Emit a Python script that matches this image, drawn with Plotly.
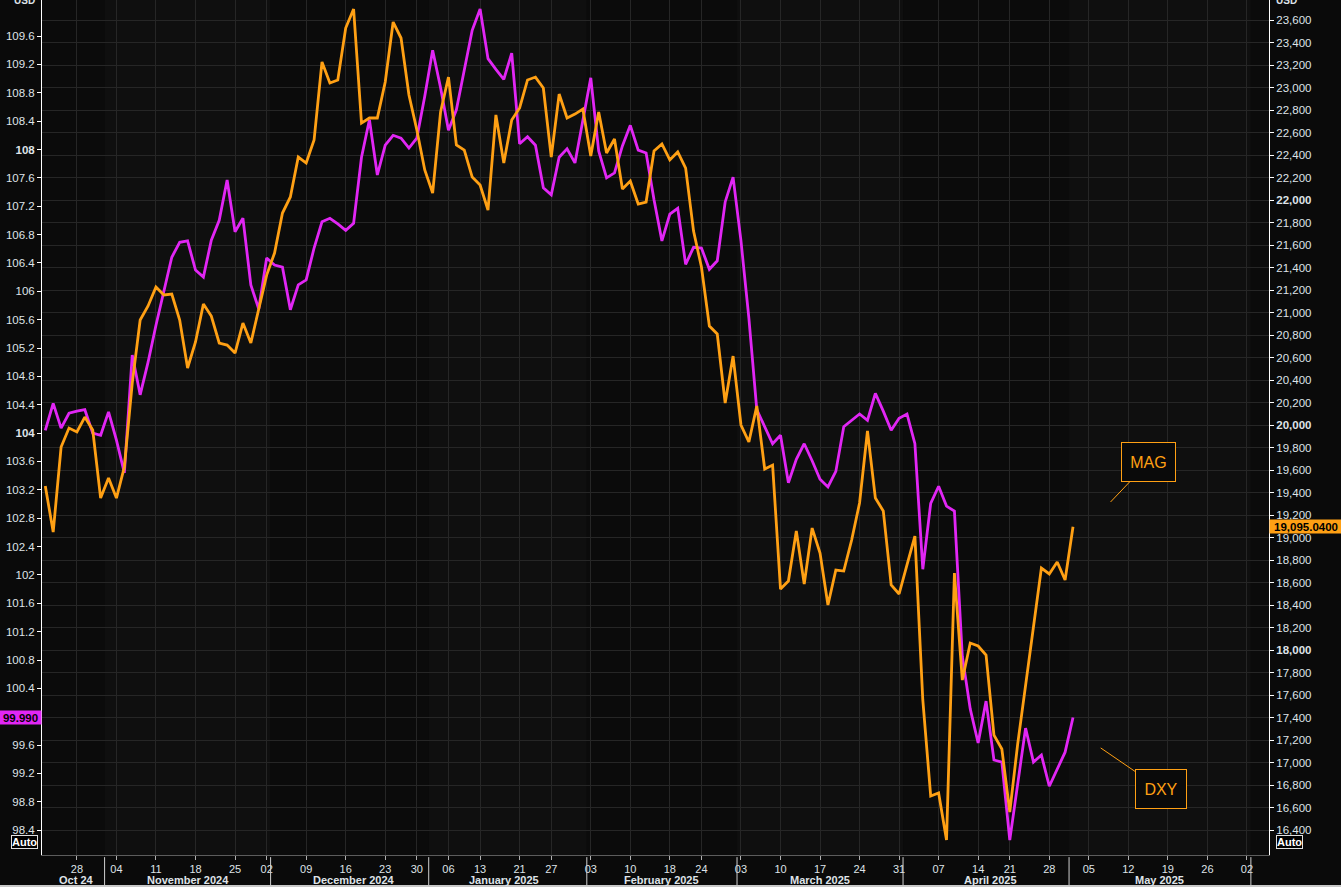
import plotly.graph_objects as go

# ---------------- data ----------------
dates = [
    "2024-10-22", "2024-10-23", "2024-10-24", "2024-10-25", "2024-10-28", "2024-10-29", "2024-10-30", "2024-10-31",
    "2024-11-01", "2024-11-04", "2024-11-05", "2024-11-06", "2024-11-07", "2024-11-08", "2024-11-11", "2024-11-12",
    "2024-11-13", "2024-11-14", "2024-11-15", "2024-11-18", "2024-11-19", "2024-11-20", "2024-11-21", "2024-11-22",
    "2024-11-25", "2024-11-26", "2024-11-27", "2024-11-29", "2024-12-02", "2024-12-03", "2024-12-04", "2024-12-05",
    "2024-12-06", "2024-12-09", "2024-12-10", "2024-12-11", "2024-12-12", "2024-12-13", "2024-12-16", "2024-12-17",
    "2024-12-18", "2024-12-19", "2024-12-20", "2024-12-23", "2024-12-24", "2024-12-26", "2024-12-27", "2024-12-30",
    "2024-12-31", "2025-01-02", "2025-01-03", "2025-01-06", "2025-01-07", "2025-01-08", "2025-01-10", "2025-01-13",
    "2025-01-14", "2025-01-15", "2025-01-16", "2025-01-17", "2025-01-21", "2025-01-22", "2025-01-23", "2025-01-24",
    "2025-01-27", "2025-01-28", "2025-01-29", "2025-01-30", "2025-01-31", "2025-02-03", "2025-02-04", "2025-02-05",
    "2025-02-06", "2025-02-07", "2025-02-10", "2025-02-11", "2025-02-12", "2025-02-13", "2025-02-14", "2025-02-18",
    "2025-02-19", "2025-02-20", "2025-02-21", "2025-02-24", "2025-02-25", "2025-02-26", "2025-02-27", "2025-02-28",
    "2025-03-03", "2025-03-04", "2025-03-05", "2025-03-06", "2025-03-07", "2025-03-10", "2025-03-11", "2025-03-12",
    "2025-03-13", "2025-03-14", "2025-03-17", "2025-03-18", "2025-03-19", "2025-03-20", "2025-03-21", "2025-03-24",
    "2025-03-25", "2025-03-26", "2025-03-27", "2025-03-28", "2025-03-31", "2025-04-01", "2025-04-02", "2025-04-03",
    "2025-04-04", "2025-04-07", "2025-04-08", "2025-04-09", "2025-04-10", "2025-04-11", "2025-04-14", "2025-04-15",
    "2025-04-16", "2025-04-17", "2025-04-21", "2025-04-22", "2025-04-23", "2025-04-24", "2025-04-25", "2025-04-28",
    "2025-04-29", "2025-04-30", "2025-05-01",
]

dxy = [
    104.04, 104.42, 104.07, 104.28, 104.31, 104.33, 104.00, 103.97,
    104.30, 103.90, 103.44, 105.10, 104.54, 105.00, 105.52, 106.00,
    106.48, 106.69, 106.71, 106.30, 106.20, 106.72, 107.00, 107.57,
    106.84, 107.03, 106.09, 105.75, 106.47, 106.37, 106.34, 105.74,
    106.09, 106.16, 106.61, 106.98, 107.03, 106.95, 106.86, 106.96,
    107.89, 108.42, 107.64, 108.06, 108.20, 108.16, 108.02, 108.16,
    108.75, 109.40, 108.87, 108.27, 108.56, 109.12, 109.68, 109.98,
    109.28, 109.13, 108.99, 109.36, 108.08, 108.18, 108.06, 107.46,
    107.36, 107.89, 108.01, 107.81, 108.39, 109.01, 107.98, 107.60,
    107.67, 108.05, 108.34, 107.99, 107.95, 107.29, 106.71, 107.09,
    107.17, 106.38, 106.62, 106.61, 106.31, 106.43, 107.26, 107.61,
    106.71, 105.62, 104.33, 104.10, 103.85, 103.97, 103.30, 103.63,
    103.85, 103.61, 103.35, 103.24, 103.46, 104.09, 104.18, 104.27,
    104.18, 104.56, 104.31, 104.04, 104.21, 104.27, 103.85, 102.08,
    103.01, 103.25, 102.97, 102.90, 100.85, 100.11, 99.63, 100.22,
    99.39, 99.36, 98.26, 99.05, 99.84, 99.36, 99.46, 99.02,
    99.25, 99.50, 99.99,
]

mag = [
    19458, 19049, 19804, 19973, 19938, 20071, 19956, 19351,
    19529, 19351, 19627, 20373, 20933, 21058, 21227, 21156,
    21164, 20933, 20507, 20738, 21076, 20969, 20729, 20711,
    20640, 20907, 20729, 21022, 21333, 21529, 21884, 22027,
    22382, 22329, 22533, 23227, 23040, 23067, 23529, 23698,
    22684, 22729, 22729, 23049, 23582, 23440, 22933, 22622,
    22267, 22062, 22782, 23093, 22489, 22444, 22204, 22133,
    21911, 22756, 22329, 22711, 22818, 23067, 23093, 22996,
    22382, 22942, 22729, 22764, 22809, 22391, 22782, 22418,
    22542, 22098, 22169, 21964, 21982, 22436, 22498, 22356,
    22427, 22284, 21724, 21404, 20880, 20809, 20196, 20613,
    20000, 19849, 20169, 19609, 19644, 18542, 18613, 19058,
    18587, 19084, 18862, 18400, 18711, 18702, 18978, 19307,
    19947, 19351, 19236, 18578, 18498, 18756, 19013, 17556,
    16702, 16729, 16311, 18684, 17733, 18062, 18036, 17956,
    17244, 17120, 16560, 17164, 17689, 18204, 18729, 18676,
    18782, 18622, 19095.04,
]

holidays = ["2024-11-28", "2024-12-25", "2025-01-01", "2025-01-09", "2025-01-20",
            "2025-02-17", "2025-04-18"]

x_tick_dates = [
    "2024-10-28", "2024-11-04", "2024-11-11", "2024-11-18", "2024-11-25", "2024-12-02", "2024-12-09",
    "2024-12-16", "2024-12-23", "2024-12-30", "2025-01-06", "2025-01-13", "2025-01-21", "2025-01-27",
    "2025-02-03", "2025-02-10", "2025-02-18", "2025-02-24", "2025-03-03", "2025-03-10", "2025-03-17",
    "2025-03-24", "2025-03-31", "2025-04-07", "2025-04-14", "2025-04-21", "2025-04-28", "2025-05-05",
    "2025-05-12", "2025-05-19", "2025-05-26", "2025-06-02",
]
x_tick_text = [d[-2:] for d in x_tick_dates]

month_names = ["Oct 24", "November 2024", "December 2024", "January 2025", "February 2025",
               "March 2025", "April 2025", "May 2025"]
month_label_at = ["2024-10-28", "2024-11-15", "2024-12-17", "2025-01-16", "2025-02-14",
                  "2025-03-17", "2025-04-15 12:00", "2025-05-16"]
month_edges = ["2024-10-31 12:00", "2024-11-30 12:00", "2024-12-31 12:00", "2025-01-31 12:00",
               "2025-02-28 12:00", "2025-03-31 12:00", "2025-04-30 12:00", "2025-05-31 12:00"]

dxy_ticks = [round(98.4 + 0.4 * i, 1) for i in range(29)]
mag_ticks = [16400 + 200 * i for i in range(37)]

# ---------------- styling ----------------
ORANGE = "#ffa014"
MAGENTA = "#e126f4"
TXT = "#dfe3e8"
GRID = "#262626"
FONT = "Liberation Sans, Arial, sans-serif"

X_RANGE = ["2024-10-21 14:00", "2025-06-04 19:00"]


def fmt_dxy(v):
    s = f"{v:.1f}"
    if s.endswith(".0"):
        s = s[:-2]
        if s == "100":
            return ""  # hidden behind the last-value box in the reference
        if int(s) % 4 == 0:
            return f"<b>{s}</b>"
    return s


def fmt_mag(v):
    s = f"{v:,}"
    return f"<b>{s}</b>" if v % 2000 == 0 else s


fig = go.Figure()
fig.add_trace(go.Scatter(x=dates, y=mag, yaxis="y2", mode="lines", name="MAG",
                         line=dict(color=ORANGE, width=2.8), hoverinfo="skip"))
fig.add_trace(go.Scatter(x=dates, y=dxy, yaxis="y", mode="lines", name="DXY",
                         line=dict(color=MAGENTA, width=2.8), hoverinfo="skip"))

shapes = []
# alternating month shading
band_edges = [X_RANGE[0]] + month_edges + [X_RANGE[1]]
for i in range(len(band_edges) - 1):
    shapes.append(dict(type="rect", xref="x", yref="paper", x0=band_edges[i], x1=band_edges[i + 1],
                       y0=0, y1=1, layer="below", line=dict(width=0),
                       fillcolor="#0f0f0f" if i % 2 == 1 else "#0b0b0b"))
# month separators below the axis
for e in month_edges:
    shapes.append(dict(type="line", xref="x", yref="paper", x0=e, x1=e, y0=-0.0025, y1=-0.036,
                       line=dict(color="#d0d0d0", width=1)))
# light strip at the very bottom of the page
shapes.append(dict(type="rect", xref="paper", yref="paper", x0=-0.04, x1=1.06, y0=-0.0352, y1=-0.04,
                   line=dict(width=0), fillcolor="#c8c8c8", layer="above"))

annotations = []
for name, at in zip(month_names, month_label_at):
    annotations.append(dict(text=f"<b>{name}</b>", x=at, xref="x", y=-0.0295, yref="paper",
                            showarrow=False, yanchor="middle",
                            font=dict(family=FONT, size=11, color=TXT)))

annotations += [
    dict(text="<b>USD</b>", x=0, xref="paper", xanchor="right", xshift=-5, y=1.0, yref="paper",
         showarrow=False, yanchor="middle", font=dict(family=FONT, size=10, color=TXT)),
    dict(text="<b>USD</b>", x=1, xref="paper", xanchor="left", xshift=5, y=1.0, yref="paper",
         showarrow=False, yanchor="middle", font=dict(family=FONT, size=10, color=TXT)),
    dict(text="<b>Auto</b>", x=0, xref="paper", xanchor="right", xshift=-4, y=0.007, yref="paper",
         showarrow=False, font=dict(family=FONT, size=11, color="#ffffff"), bordercolor="#e0e0e0",
         borderwidth=1, borderpad=0, bgcolor="#000000"),
    dict(text="<b>Auto</b>", x=1, xref="paper", xanchor="left", xshift=7, y=0.007, yref="paper",
         showarrow=False, font=dict(family=FONT, size=11, color="#ffffff"), bordercolor="#e0e0e0",
         borderwidth=1, borderpad=0, bgcolor="#000000"),
    # last value labels
    dict(text=f"<b>{dxy[-1]:.3f}</b>", x=0, xref="paper", xanchor="right", y=dxy[-1], yref="y",
         showarrow=False, font=dict(family=FONT, size=11.5, color="#000000"), bgcolor=MAGENTA,
         width=41, height=13, borderpad=0),
    dict(text=f"<b>{mag[-1]:,.4f}</b>", x=1, xref="paper", xanchor="left", y=mag[-1], yref="y2",
         showarrow=False, font=dict(family=FONT, size=11.5, color="#000000"), bgcolor=ORANGE,
         width=72, height=13, borderpad=0),
    # callouts
    dict(text="MAG", x="2025-05-07 18:00", xref="x", y=19316, yref="y2", ax=38, ay=-40,
         showarrow=True, arrowhead=0, arrowwidth=1, arrowcolor=ORANGE,
         font=dict(family=FONT, size=16, color=ORANGE), bordercolor=ORANGE, borderwidth=1,
         width=51, height=36, bgcolor="#0a0a0a"),
    dict(text="DXY", x="2025-05-06 12:00", xref="x", y=99.56, yref="y", ax=60, ay=41,
         showarrow=True, arrowhead=0, arrowwidth=1, arrowcolor=ORANGE,
         font=dict(family=FONT, size=16, color=ORANGE), bordercolor=ORANGE, borderwidth=1,
         width=48, height=36, bgcolor="#0a0a0a"),
]

fig.update_layout(
    width=1341, height=887,
    margin=dict(l=42, r=72, t=0, b=32, pad=0),
    paper_bgcolor="#0a0a0a", plot_bgcolor="#0a0a0a",
    showlegend=False,
    font=dict(family=FONT, size=11, color=TXT),
    shapes=shapes, annotations=annotations,
    xaxis=dict(
        type="date", range=X_RANGE,
        rangebreaks=[dict(bounds=["sat", "mon"]), dict(values=holidays)],
        tickmode="array", tickvals=x_tick_dates, ticktext=x_tick_text,
        ticks="outside", ticklen=4, tickcolor="#b0b0b0", tickwidth=1,
        showgrid=True, gridcolor=GRID, gridwidth=1,
        showline=True, linecolor="#5c5c5c", linewidth=1, zeroline=False,
        tickfont=dict(family=FONT, size=11, color=TXT),
    ),
    yaxis=dict(
        range=[98.05, 110.108], tickmode="array", tickvals=dxy_ticks,
        ticktext=[fmt_dxy(v) for v in dxy_ticks],
        ticks="outside", ticklen=4, tickcolor="#ffffff", showgrid=False,
        showline=True, linecolor="#ffffff", linewidth=1, zeroline=False,
        tickfont=dict(family=FONT, size=11.5, color=TXT),
    ),
    yaxis2=dict(
        range=[16178, 23778], overlaying="y", side="right", tickmode="array",
        tickvals=mag_ticks, ticktext=[fmt_mag(v) for v in mag_ticks],
        ticks="outside", ticklen=4, tickcolor="#ffffff", showgrid=True, gridcolor=GRID,
        showline=True, linecolor="#ffffff", linewidth=1, zeroline=False,
        tickfont=dict(family=FONT, size=11.5, color=TXT),
    ),
)

fig.write_html(
    "out.html",
    config={"displayModeBar": False},
    post_script="document.body.style.margin='0';document.body.style.padding='0';"
                "document.body.style.overflow='hidden';document.body.style.background='#0a0a0a';",
)
